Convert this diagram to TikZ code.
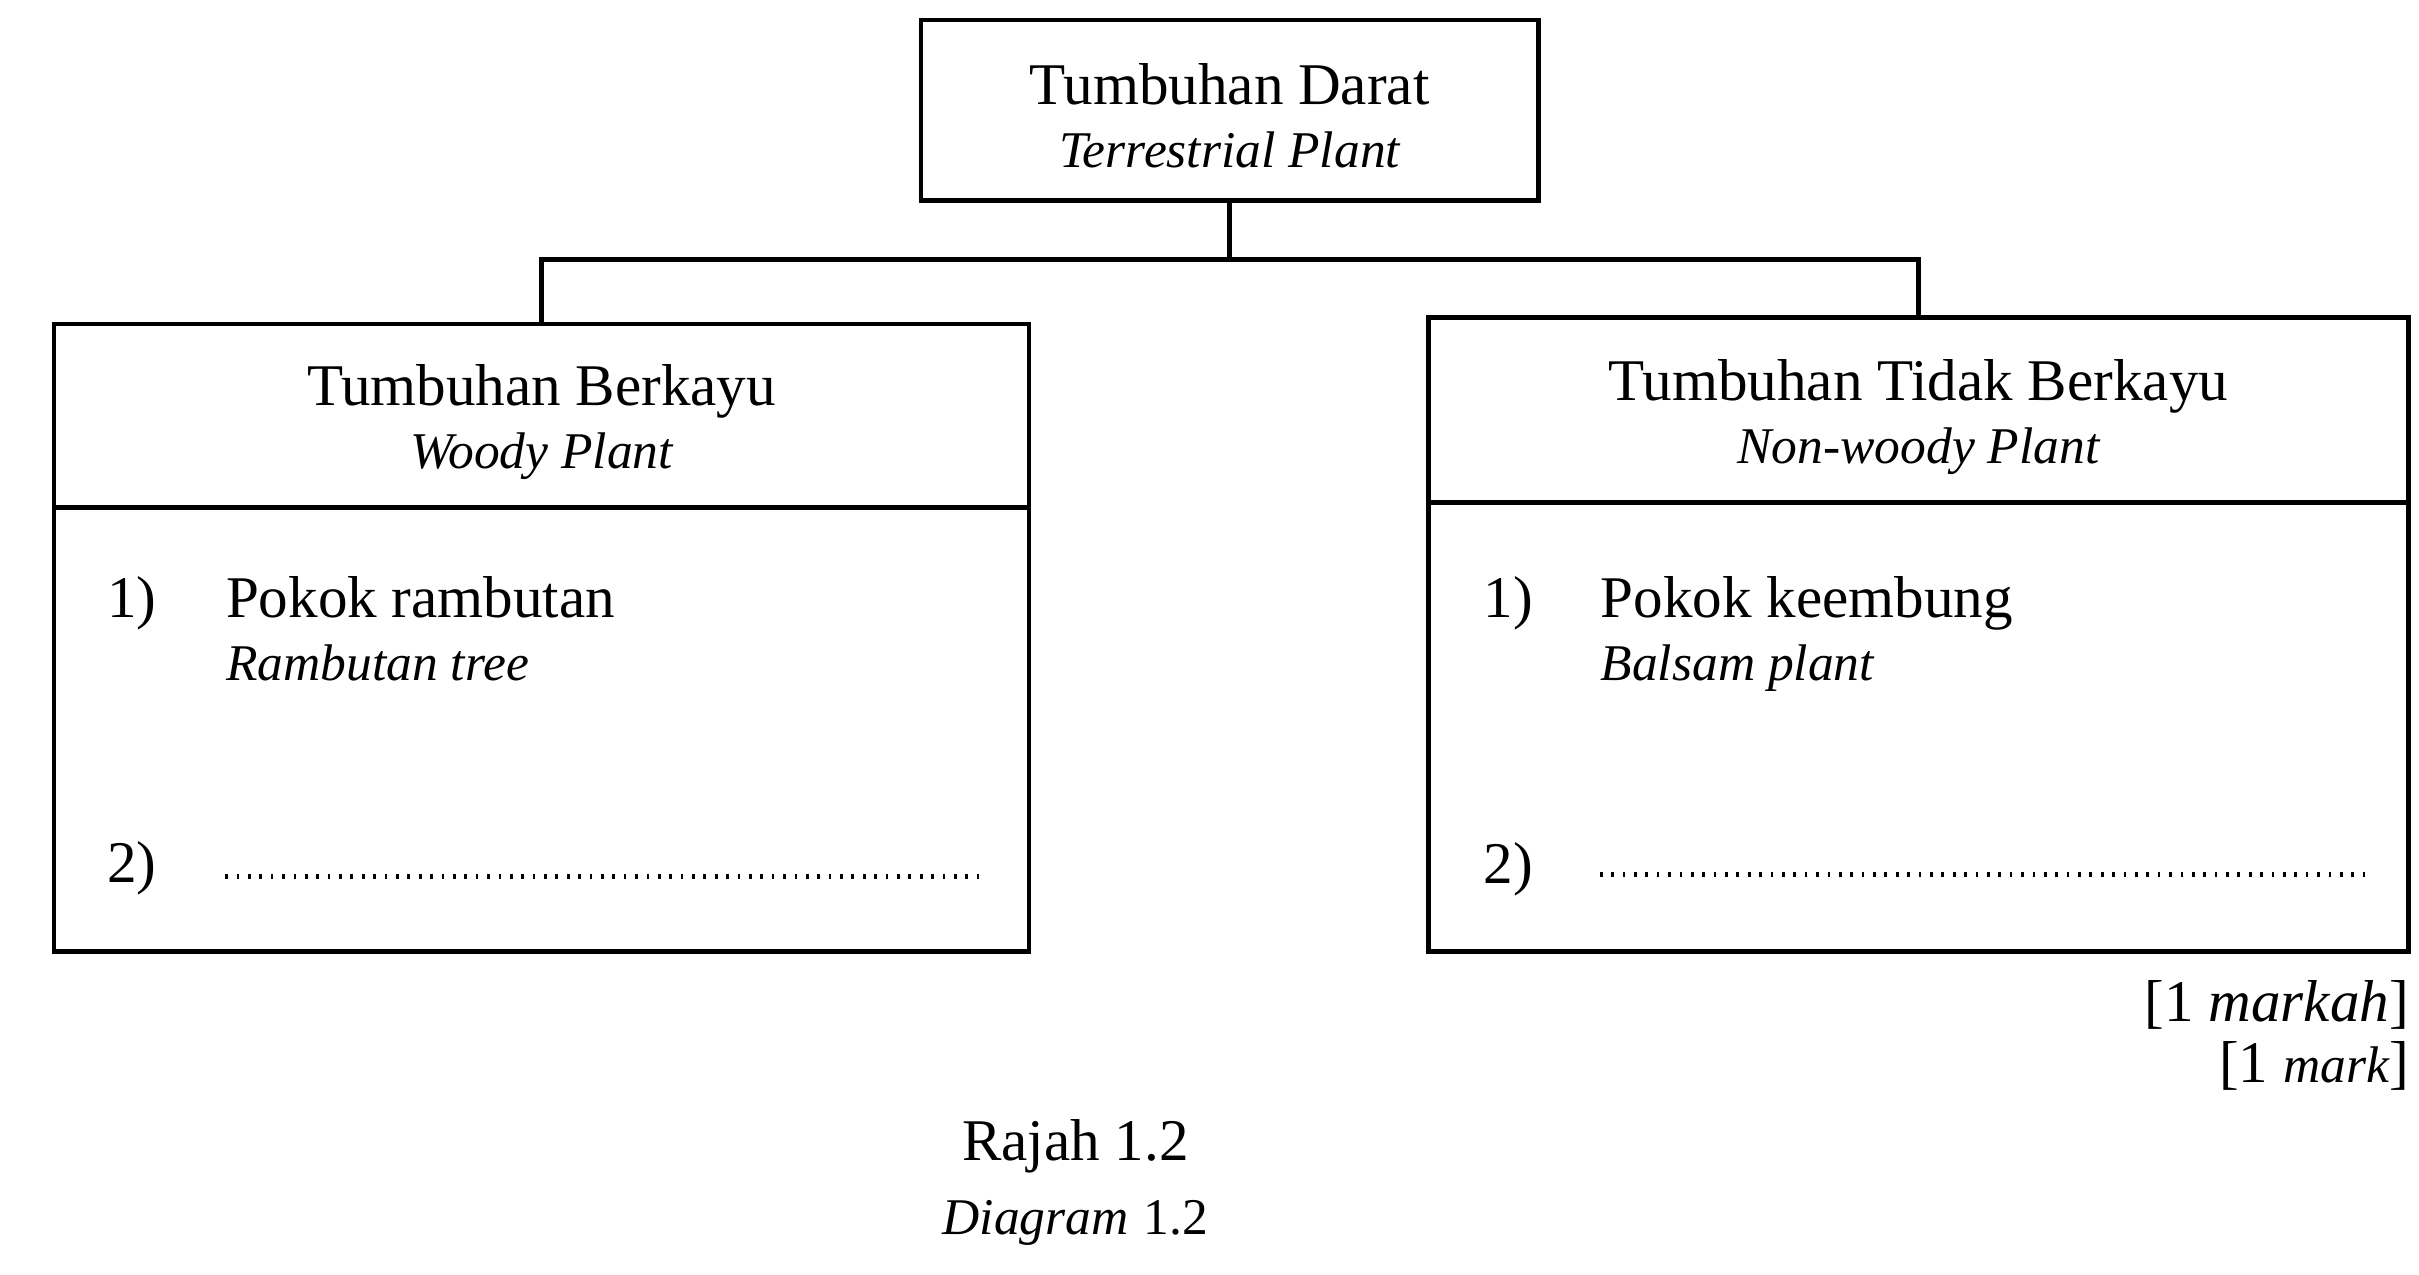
\documentclass[tikz,border=0pt]{standalone}
\usepackage{fontspec}
\setmainfont{Liberation Serif}
\newcommand{\eng}[1]{{\fontsize{9.5}{11}\selectfont\itshape #1}}
\begin{document}
\fontsize{10.9}{12.3}\selectfont
\begin{tikzpicture}[x=0.1mm, y=-0.1mm, line width=0.9pt,
	box/.style={draw, inner sep=0pt, outer sep=0pt, align=center},
	txt/.style={inner sep=0pt, anchor=base west},
	blank/.style={line width=1pt, dash pattern=on 0.5pt off 1.6pt}]
	\useasboundingbox (0,0) rectangle (1568,826);
	% Boxes
	\node[box, minimum width=40mm, minimum height=11.7mm] (top) at (797,71.5)
		{\rule{0pt}{3.4mm}Tumbuhan Darat\\[-0.6pt]\eng{Terrestrial Plant}};
	\node[box, minimum width=63.2mm, minimum height=11.9mm] (lhead) at (351,269.5)
		{\rule{0pt}{3.5mm}Tumbuhan Berkayu\\[-0.6pt]\eng{Woody Plant}};
	\node[box, minimum width=63.2mm, minimum height=28.8mm, anchor=north] (lbody) at (lhead.south) {};
	\node[box, minimum width=63.5mm, minimum height=12mm] (rhead) at (1243.5,266)
		{\rule{0pt}{3.5mm}Tumbuhan Tidak Berkayu\\[-0.6pt]\eng{Non-woody Plant}};
	\node[box, minimum width=63.5mm, minimum height=29.1mm, anchor=north] (rbody) at (rhead.south) {};
	% Connectors
	\coordinate (bar) at (797,168);
	\draw (top.south) -- (bar);
	\draw (lhead.north) |- (bar) -| (rhead.north);
	% Left list
	\node[txt] (l1) at (68,400) {1)};
	\node[txt] (l1a) at (145,400) {Pokok rambutan};
	\node[txt] (l1b) at (145,441) {\eng{Rambutan tree}};
	\node[txt] (l2) at (68,572) {2)};
	\coordinate (l2a) at (146,568);
	\coordinate (l2b) at (640,568);
	\draw[blank] (l2a) -- (l2b);
	% Right list
	\node[txt] (r1) at (960,400) {1)};
	\node[txt] (r1a) at (1036,400) {Pokok keembung};
	\node[txt] (r1b) at (1036,441) {\eng{Balsam plant}};
	\node[txt] (r2) at (960,573) {2)};
	\coordinate (r2a) at (1037,567);
	\coordinate (r2b) at (1535,567);
	\draw[blank] (r2a) -- (r2b);
	% Marks
	\node[inner sep=0pt, anchor=base east] (markah) at (1563,662) {[1 \textit{markah}]};
	\node[inner sep=0pt, anchor=base east] (mark) at (1563,702)
		{[1 \eng{mark}]};
	% Caption
	\node[inner sep=0pt, anchor=base] (rajah) at (697,752) {Rajah 1.2};
	\node[inner sep=0pt, anchor=base] (diagram) at (697,800)
		{\eng{Diagram} {\fontsize{9.5}{11}\selectfont 1.2}};
\end{tikzpicture}
\end{document}
